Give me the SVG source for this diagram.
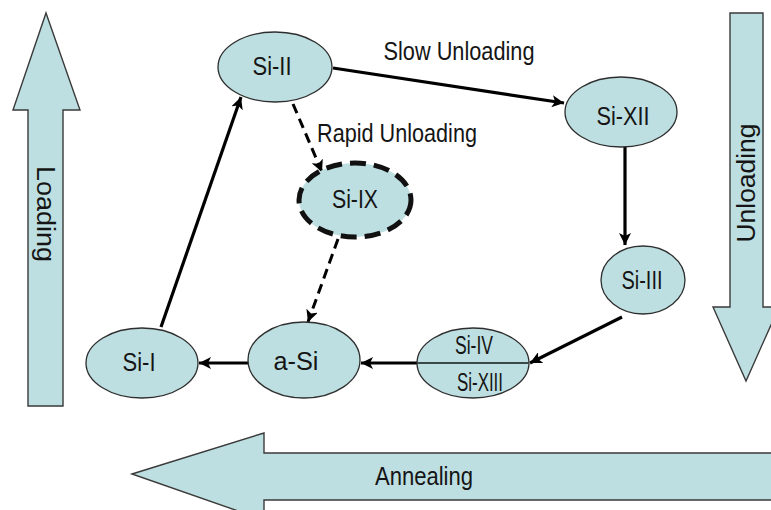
<svg xmlns="http://www.w3.org/2000/svg" width="771" height="510" viewBox="0 0 771 510">
  <style>
    .bg { fill: #ffffff; }
    .block { fill: #bedfe1; stroke: #3a3a3a; stroke-width: 1.4; stroke-linejoin: miter; }
    .node { fill: #bedfe1; stroke: #2e2e2e; stroke-width: 1.3; }
    .node-dash { fill: #bedfe1; stroke: #111; stroke-width: 5; stroke-dasharray: 16 8; }
    .divider { stroke: #3a4a4a; stroke-width: 1.8; }
    .lbl { font-family: "Liberation Sans", Arial, sans-serif; font-size: 26px; fill: #151515; text-anchor: middle; }
    .edge { fill: none; stroke: #000; stroke-width: 3.2; }
    .edge-dash { fill: none; stroke: #000; stroke-width: 3; stroke-dasharray: 10 6; }
  </style>
  <defs>
    <marker id="head" markerUnits="userSpaceOnUse" markerWidth="14" markerHeight="12" refX="12" refY="6" orient="auto">
      <path d="M0,0 L12,6 L0,12 L3,6 Z" fill="#000"/>
    </marker>
  </defs>

  <rect class="bg" x="0" y="0" width="771" height="510"/>

  <!-- Process direction block arrows -->
  <g id="loading-arrow">
    <polygon class="block" points="46,13 80,110 63,110 63,406 28,406 28,110 13,110"/>
    <text class="lbl" transform="translate(37,214) rotate(90)" font-size="24" textLength="96" lengthAdjust="spacingAndGlyphs">Loading</text>
  </g>
  <g id="unloading-arrow">
    <polygon class="block" points="730,13 763,13 763,307 779,307 746,381 713,307 730,307"/>
    <text class="lbl" transform="translate(755,183) rotate(-90)" font-size="24" textLength="119" lengthAdjust="spacingAndGlyphs">Unloading</text>
  </g>
  <g id="annealing-arrow">
    <polygon class="block" points="132,474 264,433 264,453 775,453 775,500 264,500 264,520"/>
    <text class="lbl" x="424" y="485" font-size="26" textLength="98" lengthAdjust="spacingAndGlyphs">Annealing</text>
  </g>

  <!-- Transitions between phases -->
  <g id="connectors">
    <line class="edge" x1="333" y1="68" x2="564" y2="103" marker-end="url(#head)"/>
    <line class="edge" x1="625" y1="147" x2="625" y2="245" stroke-width="2.4" marker-end="url(#head)"/>
    <line class="edge" x1="622" y1="317" x2="530" y2="363" marker-end="url(#head)"/>
    <line class="edge" x1="417" y1="363" x2="361" y2="363" stroke-width="4" marker-end="url(#head)"/>
    <line class="edge" x1="249" y1="363" x2="199" y2="363" stroke-width="3.6" marker-end="url(#head)"/>
    <line class="edge" x1="161" y1="327" x2="241" y2="97" marker-end="url(#head)"/>
    <line class="edge-dash" x1="293" y1="104" x2="322" y2="172" marker-end="url(#head)"/>
    <line class="edge-dash" x1="338" y1="239" x2="308" y2="322" marker-end="url(#head)"/>
    <text class="lbl" x="459" y="60" font-size="24" textLength="151" lengthAdjust="spacingAndGlyphs">Slow Unloading</text>
    <text class="lbl" x="397" y="142" font-size="24" textLength="160" lengthAdjust="spacingAndGlyphs">Rapid Unloading</text>
  </g>

  <!-- Silicon phases -->
  <g id="si-ii">
    <ellipse class="node" cx="275" cy="67" rx="57" ry="35"/>
    <text class="lbl" x="272" y="75" textLength="39" lengthAdjust="spacingAndGlyphs">Si-II</text>
  </g>
  <g id="si-xii">
    <ellipse class="node" cx="621" cy="112" rx="56" ry="35"/>
    <text class="lbl" x="623" y="125" textLength="53" lengthAdjust="spacingAndGlyphs">Si-XII</text>
  </g>
  <g id="si-iii">
    <ellipse class="node" cx="643" cy="280" rx="42" ry="34"/>
    <text class="lbl" x="642" y="289" textLength="41" lengthAdjust="spacingAndGlyphs">Si-III</text>
  </g>
  <g id="si-ix">
    <ellipse class="node-dash" cx="355" cy="200" rx="56" ry="37"/>
    <text class="lbl" x="355" y="208" textLength="46" lengthAdjust="spacingAndGlyphs">Si-IX</text>
  </g>
  <g id="si-iv-xiii">
    <ellipse class="node" cx="473" cy="363" rx="56" ry="35"/>
    <line class="divider" x1="417" y1="363" x2="529" y2="363"/>
    <text class="lbl" x="474" y="354" font-size="24" textLength="38" lengthAdjust="spacingAndGlyphs">Si-IV</text>
    <text class="lbl" x="480" y="391" font-size="24" textLength="46" lengthAdjust="spacingAndGlyphs">Si-XIII</text>
  </g>
  <g id="a-si">
    <ellipse class="node" cx="304" cy="360" rx="56" ry="38"/>
    <text class="lbl" x="296" y="370" textLength="45" lengthAdjust="spacingAndGlyphs">a-Si</text>
  </g>
  <g id="si-i">
    <ellipse class="node" cx="142" cy="363" rx="56" ry="35"/>
    <text class="lbl" x="139" y="371" textLength="33" lengthAdjust="spacingAndGlyphs">Si-I</text>
  </g>
</svg>
